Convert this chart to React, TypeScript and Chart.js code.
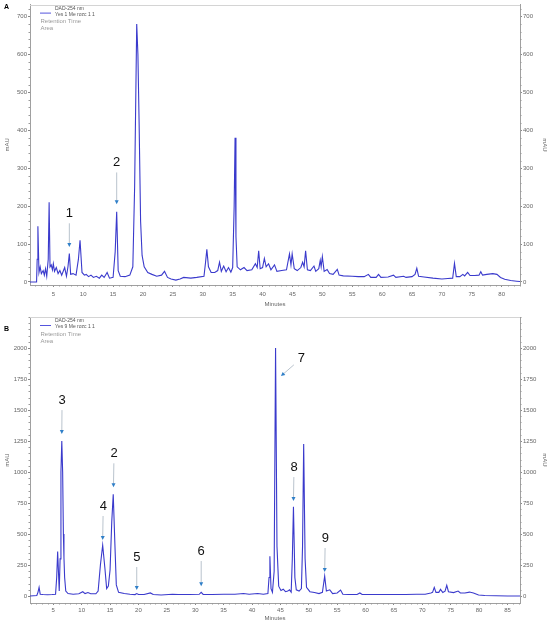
import React, { useEffect, useRef } from 'react';
import { Chart, registerables } from 'chart.js';
Chart.register(...registerables);

// ---------- Panel A data ----------
const timeA = [1.1, 2.2, 2.3, 2.42, 2.6, 2.8, 3.0, 3.3, 3.5, 3.7, 3.9, 4.15, 4.3, 4.45, 4.65, 4.85, 5.0, 5.2, 5.5, 5.8, 6.1, 6.4, 6.9, 7.2, 7.45, 7.68, 7.9, 8.3, 8.8, 9.2, 9.47, 9.8, 10.2, 10.5, 10.9, 11.3, 11.7, 12.2, 12.7, 13.1, 13.5, 14.0, 14.4, 15.0, 15.35, 15.6, 15.85, 16.2, 17.0, 17.8, 18.3, 18.6, 18.95, 19.15, 19.35, 19.6, 19.85, 20.2, 20.8, 21.5, 22.3, 23.1, 23.6, 24.1, 24.7, 25.5, 26.2, 26.8, 28, 29, 30.2, 30.45, 30.68, 30.95, 31.4, 32.0, 32.5, 32.8, 33.1, 33.5, 33.9, 34.3, 34.7, 35.0, 35.25, 35.4, 35.55, 35.75, 36.3, 36.9, 37.4, 38.2, 38.8, 39.1, 39.35, 39.6, 40.0, 40.3, 40.6, 41.0, 41.4, 42.0, 42.4, 43.2, 44.0, 44.5, 44.75, 44.95, 45.3, 45.8, 46.4, 46.7, 46.95, 47.2, 47.5, 48.0, 48.6, 48.9, 49.4, 49.65, 49.8, 50.0, 50.3, 50.8, 51.2, 51.8, 52.5, 52.8, 53.5, 55, 56, 57, 57.7, 58.1, 59.0, 59.4, 59.8, 61, 61.9, 62.3, 63.6, 64, 65, 65.5, 65.8, 66.1, 67, 68.5, 70, 71, 71.8, 72.1, 72.4, 73.0, 73.5, 73.8, 74.3, 74.7, 75.5, 76.2, 76.5, 76.8, 77.5, 78.5, 79.2, 79.8, 80.5, 81.5, 82.5, 83.1];
const absA = [0, 0, 60, 147, 25, 40, 22, 30, 18, 35, 15, 60, 210, 40, 45, 32, 48, 28, 38, 22, 30, 18, 38, 15, 40, 75, 20, 22, 18, 60, 110, 25, 18, 20, 14, 18, 12, 15, 10, 18, 12, 25, 10, 12, 80, 185, 30, 15, 14, 18, 40, 250, 680, 600, 420, 160, 70, 40, 25, 20, 15, 18, 28, 12, 8, 5, 8, 12, 10, 12, 15, 50, 86, 40, 25, 25, 30, 52, 28, 42, 27, 38, 26, 38, 200, 380, 120, 40, 32, 38, 30, 32, 48, 38, 82, 35, 38, 62, 40, 48, 32, 45, 28, 30, 32, 74, 45, 74, 35, 30, 38, 52, 40, 82, 32, 30, 42, 28, 35, 57, 40, 67, 28, 33, 22, 20, 33, 18, 16, 15, 14, 14, 20, 12, 12, 20, 12, 13, 18, 12, 15, 12, 14, 20, 36, 15, 13, 10, 8, 9, 10, 49, 14, 14, 20, 16, 25, 17, 17, 18, 27, 18, 20, 22, 20, 12, 7, 4, 2, 1];

const annTextA = ['1', '2'];
const annTextXA = [7.68, 15.6];
const annTextYA = [181, 315];
const annTipXA = [7.68, 15.6];
const annTipYA = [92, 205];

// ---------- Panel B data ----------
const timeB = [0.9, 2.1, 2.3, 2.5, 2.7, 3.2, 4, 4.8, 5.4, 5.6, 5.77, 6.05, 6.2, 6.35, 6.5, 6.65, 6.78, 6.88, 7.0, 7.2, 7.6, 8.5, 9.5, 10.2, 10.6, 11.1, 11.6, 12.5, 12.9, 13.3, 13.7, 14.1, 14.4, 14.7, 15.0, 15.3, 15.56, 15.85, 16.1, 16.5, 17.5, 18.5, 19.4, 19.7, 20.0, 21, 22.1, 22.6, 24, 26, 27, 29, 30.7, 31.05, 31.4, 33, 35, 37, 38.5, 39.5, 41, 42, 42.8, 43.0, 43.15, 43.35, 43.6, 43.9, 44.15, 44.4, 44.7, 45.1, 45.5, 45.9, 46.3, 46.6, 46.9, 47.1, 47.3, 47.55, 47.8, 48.3, 48.7, 48.9, 49.1, 49.35, 49.6, 50.2, 51, 51.8, 52.4, 52.8, 53.1, 53.7, 54.2, 55, 55.6, 56.0, 57, 58.5, 59, 59.4, 61, 63, 65, 67, 69, 70.5, 71.5, 71.8, 72.1, 72.4, 72.9, 73.2, 73.6, 74.0, 74.3, 74.6, 75.5, 76.3, 76.7, 77.5, 78.3, 79, 79.9, 81, 83, 85, 87.2];
const absB = [0, 5, 30, 70, 15, 12, 10, 12, 15, 150, 360, 40, 300, 1000, 1250, 1000, 500, 310, 150, 40, 20, 15, 18, 35, 20, 28, 18, 18, 40, 250, 410, 220, 60, 80, 210, 600, 820, 420, 90, 30, 20, 15, 12, 20, 12, 12, 25, 12, 8, 15, 12, 12, 14, 30, 13, 12, 14, 15, 20, 15, 20, 15, 20, 150, 320, 60, 30, 200, 2000, 400, 80, 45, 55, 35, 40, 50, 32, 300, 720, 150, 50, 40, 60, 400, 1226, 300, 70, 35, 28, 20, 30, 160, 40, 50, 20, 25, 48, 15, 12, 12, 25, 12, 12, 12, 12, 12, 15, 15, 25, 30, 70, 30, 30, 54, 28, 40, 86, 35, 28, 40, 25, 25, 32, 25, 8, 4, 2, 1, 0];

const annTextB = ['3', '2', '4', '5', '6', '7', '8', '9'];
const annTextXB = [6.55, 15.7, 13.8, 19.7, 31.05, 48.7, 47.4, 52.9];
const annTextYB = [1580, 1151, 726, 315, 363, 1917, 1040, 468];
const annTipXB = [6.5, 15.6, 13.7, 19.7, 31.05, 45.1, 47.3, 52.8];
const annTipYB = [1306, 877, 452, 48, 80, 1774, 766, 194];

const yTicksA = { step: 100, minor: 20, lastLabel: 700 };
const yTicksB = { step: 250, minor: 50, lastLabel: 2000 };
const xTickStep = 5;

const FONT = '"Liberation Sans", Arial, sans-serif';
const LINE = '#3a3acc';

interface PanelDef {
  times: number[];
  values: number[];
  xMin: number; xMax: number;
  yMin: number; yMax: number;
  yStep: number; yMinor: number; yLast: number;
  top: number; axisH: number; tickPad: number; titlePad: number;
  panel: string; panelY: number;
  legend2: string;
  annText: string[]; annTX: number[]; annTY: number[]; annAX: number[]; annAY: number[];
}

function makeTicks(min: number, max: number, step: number) {
  const out: { value: number }[] = [];
  for (let v = Math.ceil(min / step) * step; v <= max + 1e-9; v += step) out.push({ value: v });
  return out;
}

function buildConfig(p: PanelDef): any {
  const data = p.times.map((t, i) => ({ x: t, y: p.values[i] }));
  const overlay = {
    id: 'overlay' + p.panel,
    afterDraw(chart: any) {
      const ctx = chart.ctx as CanvasRenderingContext2D;
      const { left, right, top, bottom } = chart.chartArea;
      const xs = chart.scales.x, ys = chart.scales.y;
      ctx.save();
      // top frame
      ctx.strokeStyle = '#d4d4d4';
      ctx.lineWidth = 1;
      ctx.beginPath();
      ctx.moveTo(left, Math.round(top) + 0.5);
      ctx.lineTo(right, Math.round(top) + 0.5);
      ctx.stroke();
      // minor ticks
      ctx.strokeStyle = '#9a9a9a';
      ctx.beginPath();
      for (let m = Math.ceil(xs.min); m <= xs.max; m++) {
        if (m % xTickStep === 0) continue;
        const px = Math.round(xs.getPixelForValue(m)) + 0.5;
        ctx.moveTo(px, bottom);
        ctx.lineTo(px, bottom + 1.5);
      }
      for (let v = 0; v <= ys.max; v += p.yMinor) {
        if (v % p.yStep === 0 && v <= p.yLast) continue;
        const py = Math.round(ys.getPixelForValue(v)) + 0.5;
        ctx.moveTo(left - 1.5, py); ctx.lineTo(left, py);
        ctx.moveTo(right, py); ctx.lineTo(right + 1.5, py);
      }
      ctx.stroke();
      // panel letter
      ctx.fillStyle = '#000';
      ctx.font = 'bold 7px ' + FONT;
      ctx.textAlign = 'left';
      ctx.textBaseline = 'middle';
      ctx.fillText(p.panel, 4, p.panelY);
      // legend
      ctx.strokeStyle = '#5555dd';
      ctx.lineWidth = 1;
      ctx.beginPath();
      ctx.moveTo(40, top + 8.5); ctx.lineTo(51, top + 8.5);
      ctx.stroke();
      ctx.font = '5px ' + FONT;
      ctx.fillStyle = '#555';
      ctx.fillText('DAD-254 nm', 55, top + 4);
      ctx.fillText(p.legend2, 55, top + 10);
      ctx.font = '6px ' + FONT;
      ctx.fillStyle = '#9a9a9a';
      ctx.fillText('Retention Time', 40.5, top + 17);
      ctx.fillText('Area', 40.5, top + 24);
      // annotations
      for (let i = 0; i < p.annText.length; i++) {
        const tx = xs.getPixelForValue(p.annTX[i]);
        const ty = ys.getPixelForValue(p.annTY[i]);
        const ax = xs.getPixelForValue(p.annAX[i]);
        const ay = ys.getPixelForValue(p.annAY[i]);
        ctx.fillStyle = '#111';
        ctx.font = '13px ' + FONT;
        ctx.textAlign = 'center';
        ctx.textBaseline = 'middle';
        ctx.fillText(p.annText[i], tx, ty);
        const dx = ax - tx, dy = ay - ty;
        const len = Math.sqrt(dx * dx + dy * dy);
        const ux = dx / len, uy = dy / len;
        const sx = tx + ux * 10, sy = ty + uy * 10;
        ctx.strokeStyle = '#b9c3cd';
        ctx.lineWidth = 1;
        ctx.beginPath();
        ctx.moveTo(sx, sy);
        ctx.lineTo(ax - ux * 3, ay - uy * 3);
        ctx.stroke();
        // arrow head
        const hl = 4, hw = 2;
        const bx = ax - ux * hl, by = ay - uy * hl;
        ctx.fillStyle = '#2f7fc8';
        ctx.beginPath();
        ctx.moveTo(ax, ay);
        ctx.lineTo(bx - uy * hw, by + ux * hw);
        ctx.lineTo(bx + uy * hw, by - ux * hw);
        ctx.closePath();
        ctx.fill();
      }
      ctx.restore();
    },
  };

  const yAxis = (pos: 'left' | 'right') => ({
    type: 'linear',
    position: pos,
    min: p.yMin,
    max: p.yMax,
    afterBuildTicks: (s: any) => { s.ticks = makeTicks(p.yMin, p.yLast, p.yStep); },
    afterFit: (s: any) => { s.width = 30; },
    ticks: {
      autoSkip: false, font: { size: 6, family: FONT }, color: '#666', padding: 1,
      callback: (v: any) => String(v),
    },
    grid: { drawOnChartArea: false, tickLength: 2, tickColor: '#888' },
    border: { color: '#a0a0a0' },
    title: {
      display: true, text: 'mAU', color: '#666', font: { size: 6, family: FONT },
      padding: { top: pos === 'left' ? 4 : 1.5, bottom: 0 },
    },
  });

  return {
    type: 'line',
    data: {
      datasets: [{
        data,
        borderColor: LINE,
        borderWidth: 1.1,
        pointRadius: 0,
        tension: 0,
        fill: false,
        yAxisID: 'y',
      }],
    },
    options: {
      animation: false,
      responsive: false,
      events: [],
      layout: { padding: { top: p.top, left: 0, right: 0, bottom: 0 } },
      plugins: { legend: { display: false }, tooltip: { enabled: false } },
      scales: {
        x: {
          type: 'linear',
          position: 'bottom',
          min: p.xMin,
          max: p.xMax,
          afterBuildTicks: (s: any) => { s.ticks = makeTicks(p.xMin, p.xMax, xTickStep); },
          afterFit: (s: any) => { s.height = p.axisH; },
          ticks: {
            autoSkip: false, maxRotation: 0, font: { size: 6, family: FONT }, color: '#666', padding: p.tickPad,
            callback: (v: any) => String(v),
          },
          grid: { drawOnChartArea: false, tickLength: 2, tickColor: '#888' },
          border: { color: '#a0a0a0' },
          title: { display: true, text: 'Minutes', color: '#666', font: { size: 6, family: FONT }, padding: { top: 0, bottom: p.titlePad } },
        },
        y: yAxis('left'),
        y2: yAxis('right'),
      },
    },
    plugins: [overlay],
  };
}

const panelA: PanelDef = {
  times: timeA, values: absA,
  xMin: 1.1, xMax: 83.06, yMin: -8, yMax: 731,
  yStep: yTicksA.step, yMinor: yTicksA.minor, yLast: yTicksA.lastLabel,
  top: 3, axisH: 25, tickPad: 4, titlePad: 2,
  panel: 'A', panelY: 7, legend2: 'Yes 1 Me rozc 1 1',
  annText: annTextA, annTX: annTextXA, annTY: annTextYA, annAX: annTipXA, annAY: annTipYA,
};

const panelB: PanelDef = {
  times: timeB, values: absB,
  xMin: 0.9, xMax: 87.2, yMin: -56, yMax: 2250,
  yStep: yTicksB.step, yMinor: yTicksB.minor, yLast: yTicksB.lastLabel,
  top: 7, axisH: 20, tickPad: 2, titlePad: 1,
  panel: 'B', panelY: 19, legend2: 'Yes 9 Me rozc 1 1',
  annText: annTextB, annTX: annTextXB, annTY: annTextYB, annAX: annTipXB, annAY: annTipYB,
};

function Panel({ def, height }: { def: PanelDef; height: number }) {
  const ref = useRef<HTMLCanvasElement | null>(null);
  useEffect(() => {
    if (!ref.current) return;
    const chart = new Chart(ref.current, buildConfig(def));
    return () => chart.destroy();
  }, [def]);
  return <canvas ref={ref} width={550} height={height} style={{ display: 'block', width: 550, height }} />;
}

export default function App() {
  return (
    <div style={{ position: 'absolute', left: 0, top: 0, width: 550, height: 623, background: '#fff' }}>
      <Panel def={panelA} height={310} />
      <Panel def={panelB} height={313} />
    </div>
  );
}
